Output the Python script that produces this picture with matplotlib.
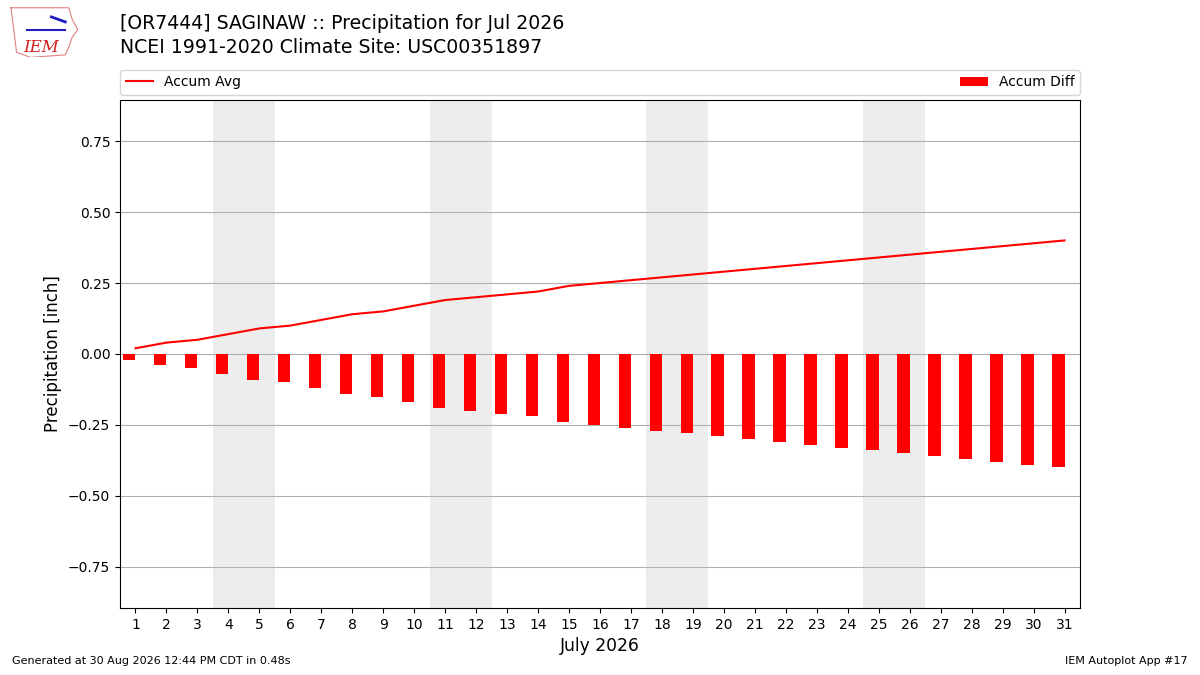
import matplotlib
matplotlib.use("Agg")
import matplotlib.pyplot as plt
import numpy as np

days = list(range(1, 32))
accum_avg = [0.02, 0.04, 0.05, 0.07, 0.09, 0.10, 0.12, 0.14, 0.15, 0.17,
             0.19, 0.20, 0.21, 0.22, 0.24, 0.25, 0.26, 0.27, 0.28, 0.29,
             0.30, 0.31, 0.32, 0.33, 0.34, 0.35, 0.36, 0.37, 0.38, 0.39, 0.40]
accum_diff = [-v for v in accum_avg]
weekends = [(4, 5), (11, 12), (18, 19), (25, 26)]
yticks = [-0.75, -0.5, -0.25, 0.0, 0.25, 0.5, 0.75]

fig = plt.figure(figsize=(12, 6.75), dpi=100)
ax = fig.add_axes([0.1, 0.0993, 0.8, 0.7526])

for a, b in weekends:
    ax.axvspan(a - 0.5, b + 0.5, color="#ededed", zorder=0, lw=0)

d = np.array(days)
line, = ax.plot(d, accum_avg, color="red", lw=1.5, label="Accum Avg", zorder=4)
bars = ax.bar(d - 0.4, accum_diff, width=0.4, align="edge", color="red", label="Accum Diff", zorder=3)

ax.set_xlim(0.5, 31.5)
ax.set_ylim(-0.895, 0.895)
ax.set_xticks(days)
ax.set_yticks(yticks)
ax.set_yticklabels([f"{v:.2f}".replace("-", "\u2212") for v in yticks])
ax.yaxis.grid(True, color="#b0b0b0", lw=0.8, zorder=1)
ax.set_axisbelow(True)
ax.set_ylabel("Precipitation [inch]", fontsize=12)
ax.set_xlabel("July 2026", fontsize=12.3)
ax.tick_params(labelsize=10)

ax.legend([line, bars], ["Accum Avg", "Accum Diff"], loc="lower left", bbox_to_anchor=(0, 1.01, 1, 0.05),
          ncol=2, mode="expand", borderaxespad=0, fontsize=10)

fig.text(0.1, 0.965, "[OR7444] SAGINAW :: Precipitation for Jul 2026", fontsize=13.6, va="center", ha="left")
fig.text(0.1, 0.93, "NCEI 1991-2020 Climate Site: USC00351897", fontsize=13.6, va="center", ha="left")
fig.text(0.01, 0.013, "Generated at 30 Aug 2026 12:44 PM CDT in 0.48s", fontsize=8, ha="left", va="bottom")
fig.text(0.99, 0.013, "IEM Autoplot App #17", fontsize=8, ha="right", va="bottom")

# simple logo
lax = fig.add_axes([0.008, 0.915, 0.058, 0.075])
lax.axis("off")
lax.set_xlim(0, 1); lax.set_ylim(0, 1)
lax.plot([0.02, 0.85, 0.9, 0.98, 0.9, 0.85, 0.8, 0.3, 0.1, 0.02],
         [0.98, 0.98, 0.75, 0.55, 0.4, 0.2, 0.05, 0.0, 0.1, 0.98], color="#e08080", lw=0.8)
lax.text(0.45, 0.2, "IEM", color="#d02020", fontsize=12, family="DejaVu Serif", style="italic",
         ha="center", va="center")
lax.plot([0.25, 0.8], [0.55, 0.55], color="#2020c0", lw=1.5)
lax.plot([0.6, 0.8], [0.8, 0.7], color="#2020c0", lw=2)

fig.savefig("out.png", dpi=100)
